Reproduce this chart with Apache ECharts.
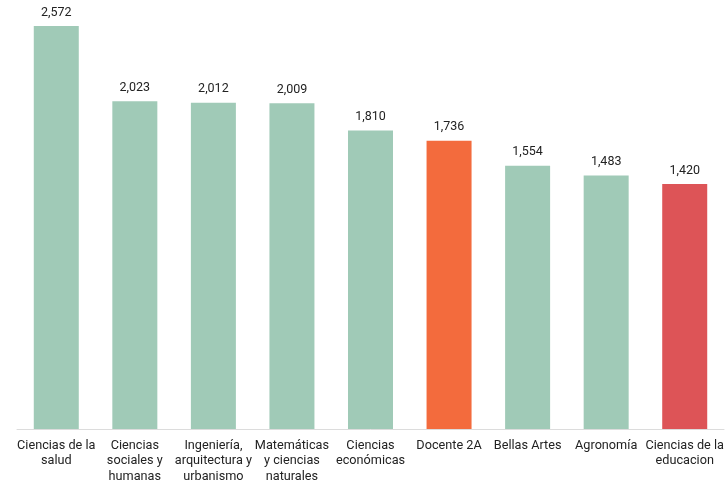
<!DOCTYPE html>
<html>
<head>
<meta charset="utf-8">
<script src="https://cdn.jsdelivr.net/npm/echarts@6/dist/echarts.min.js"></script>
<style>
html,body{margin:0;padding:0;background:#fff;}
#chart{width:727px;height:482px;}
</style>
</head>
<body>
<div id="chart"></div>
<script>
const categories = [
  "Ciencias de la\nsalud",
  "Ciencias\nsociales y\nhumanas",
  "Ingeniería,\narquitectura y\nurbanismo",
  "Matemáticas\ny ciencias\nnaturales",
  "Ciencias\neconómicas",
  "Docente 2A",
  "Bellas Artes",
  "Agronomía",
  "Ciencias de la\neducacion"
];
const values = [2572, 2023, 2012, 2009, 1810, 1736, 1554, 1483, 1420];
const barColors = ["#a0cab7","#a0cab7","#a0cab7","#a0cab7","#a0cab7","#f36b3d","#a0cab7","#a0cab7","#dd5457"];
const axisMin = -366;
const axisMax = 2572;

const chart = echarts.init(document.getElementById('chart'));
const fmt = v => v.toLocaleString('en-US');
chart.setOption({
  animation: false,
  grid: {left: 17, right: 3, top: 26, bottom: 53, outerBoundsMode: 'none', containLabel: false},
  xAxis: {
    type: 'category',
    data: categories,
    axisTick: {show: false},
    axisLine: {onZero: false, lineStyle: {color: '#dcdcdc', width: 1}},
    axisLabel: {
      interval: 0, margin: 9, color: '#222', fontFamily: 'Roboto', fontSize: 12.7, lineHeight: 15.5
    }
  },
  yAxis: {
    type: 'value', min: axisMin, max: axisMax,
    show: false, splitLine: {show: false}
  },
  series: [{
    type: 'custom',
    data: values.map((v, i) => [i, v]),
    encode: {x: 0, y: 1},
    renderItem: function (params, api) {
      const i = api.value(0);
      const v = api.value(1);
      const top = api.coord([i, v]);
      const bottom = api.coord([i, axisMin]);
      const w = 45;
      return {
        type: 'rect',
        shape: {x: top[0] - w / 2, y: top[1], width: w, height: bottom[1] - top[1]},
        style: {fill: barColors[i]},
        textContent: {
          style: {text: fmt(v), fill: '#222', font: '12.5px Roboto'}
        },
        textConfig: {position: 'top', distance: 7}
      };
    }
  }]
});
</script>
</body>
</html>
